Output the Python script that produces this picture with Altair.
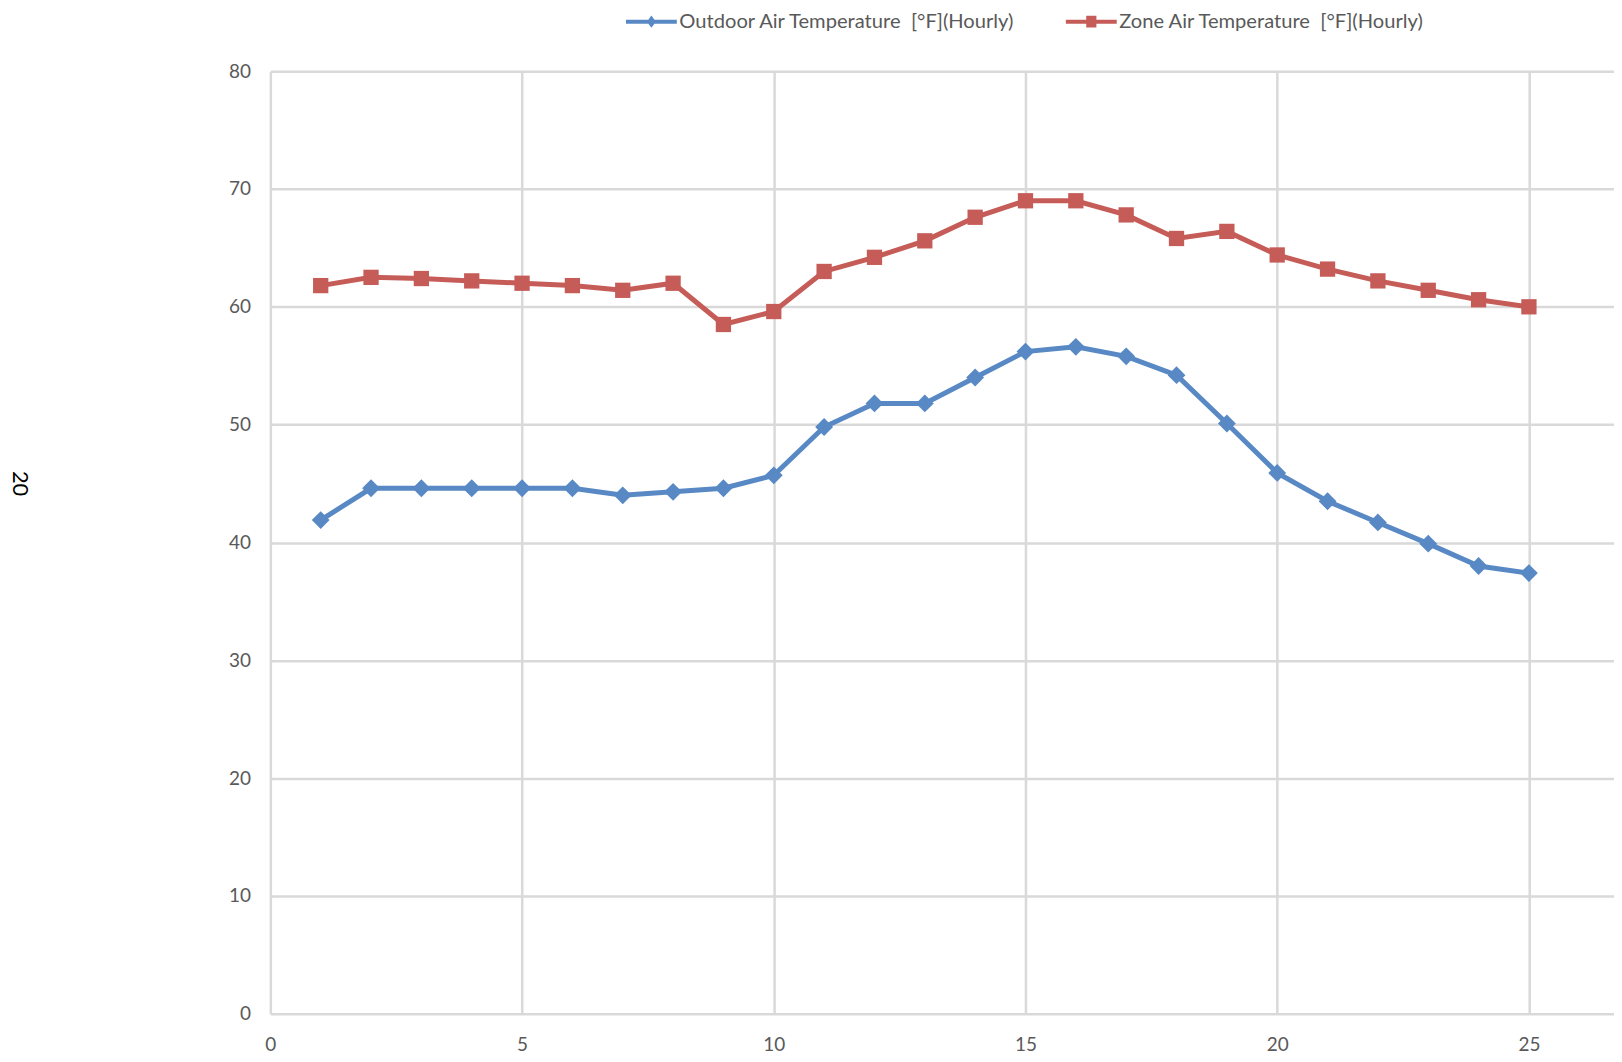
import altair as alt
import pandas as pd

hours = list(range(1, 26))
outdoor = [41.9, 44.6, 44.6, 44.6, 44.6, 44.6, 44.0, 44.3, 44.6, 45.7,
           49.8, 51.8, 51.8, 54.0, 56.2, 56.6, 55.8, 54.2, 50.1, 45.9,
           43.5, 41.7, 39.9, 38.0, 37.4]
zone = [61.8, 62.5, 62.4, 62.2, 62.0, 61.8, 61.4, 62.0, 58.5, 59.6,
        63.0, 64.2, 65.6, 67.6, 69.0, 69.0, 67.8, 65.8, 66.4, 64.4,
        63.2, 62.2, 61.4, 60.6, 60.0]
series_names = ["Outdoor Air Temperature \u00a0[°F](Hourly)",
                "Zone Air Temperature \u00a0[°F](Hourly)"]
series_colors = ["#5889c5", "#c65c57"]
x_ticks = [0, 5, 10, 15, 20, 25]
y_ticks = [0, 10, 20, 30, 40, 50, 60, 70, 80]
y_title = "20"

rows = []
for h, v in zip(hours, outdoor):
    rows.append({"hour": h, "temp": v, "series": series_names[0]})
for h, v in zip(hours, zone):
    rows.append({"hour": h, "temp": v, "series": series_names[1]})
df = pd.DataFrame(rows)

FONT = "Lato"
# legend glyphs: a line with the series marker in the middle (unit = half symbol box)
diamond_line = ("M-2,-0.16L-0.24,-0.16L0,-0.48L0.24,-0.16L2,-0.16L2,0.16"
                "L0.24,0.16L0,0.48L-0.24,0.16L-2,0.16Z")
square_line = ("M-2,-0.16L-0.4,-0.16L-0.4,-0.46L0.4,-0.46L0.4,-0.16L2,-0.16"
               "L2,0.16L0.4,0.16L0.4,0.46L-0.4,0.46L-0.4,0.16L-2,0.16Z")

color_scale = alt.Scale(domain=series_names, range=series_colors)
legend = alt.Legend(
    title=None, orient="none", direction="horizontal",
    legendX=369, legendY=-63,
    symbolSize=650, symbolStrokeWidth=0, symbolOpacity=1,
    labelFont=FONT, labelFontSize=20.2, labelColor="#595959",
    labelLimit=0, labelOffset=15, columnPadding=49,
)

x_enc = alt.X("hour:Q", scale=alt.Scale(domain=[0, 26.69], nice=False, zero=False),
              axis=alt.Axis(values=x_ticks, title=None, labelPadding=22))
y_enc = alt.Y("temp:Q", scale=alt.Scale(domain=[0, 80], nice=False),
              axis=alt.Axis(values=y_ticks, title=y_title, labelPadding=20,
                            titleAngle=90, titleX=-251, titleY=413,
                            titleAlign="center", titleBaseline="middle",
                            titleFont=FONT, titleFontSize=22, titleColor="#000000",
                            titleFontWeight="normal"))

lines = alt.Chart(df).mark_line(strokeWidth=5).encode(
    x=x_enc, y=y_enc,
    color=alt.Color("series:N", scale=color_scale, legend=None),
)
diamonds = alt.Chart(df).transform_filter(
    alt.datum.series == series_names[0]
).mark_point(filled=True, opacity=1, size=320, shape="diamond").encode(
    x=x_enc, y=y_enc,
    color=alt.Color("series:N", scale=color_scale, legend=None),
)
squares = alt.Chart(df).transform_filter(
    alt.datum.series == series_names[1]
).mark_point(filled=True, opacity=1, size=235, shape="square").encode(
    x=x_enc, y=y_enc,
    color=alt.Color("series:N", scale=color_scale, legend=None),
)
legend_layer = alt.Chart(df).mark_point(filled=True, opacity=0, size=10).encode(
    x=x_enc, y=y_enc,
    color=alt.Color("series:N", scale=color_scale, legend=legend),
    shape=alt.Shape("series:N", scale=alt.Scale(domain=series_names, range=[diamond_line, square_line]), legend=legend),
)

chart = alt.layer(lines, diamonds, squares, legend_layer).resolve_scale(
    shape="independent", color="independent"
).properties(
    width=1347, height=945,
    autosize=alt.AutoSizeParams(type="none"),
    padding={"left": 263, "top": 62, "right": 0, "bottom": 40},
).configure_view(stroke=None).configure_axis(
    domain=False, ticks=False, grid=True, gridColor="#d9d9d9", gridWidth=2.5,
    labelFont=FONT, labelFontSize=19, labelColor="#595959", labelFlush=False,
)

chart.save("out.html", embed_options={"renderer": "svg", "actions": False})
